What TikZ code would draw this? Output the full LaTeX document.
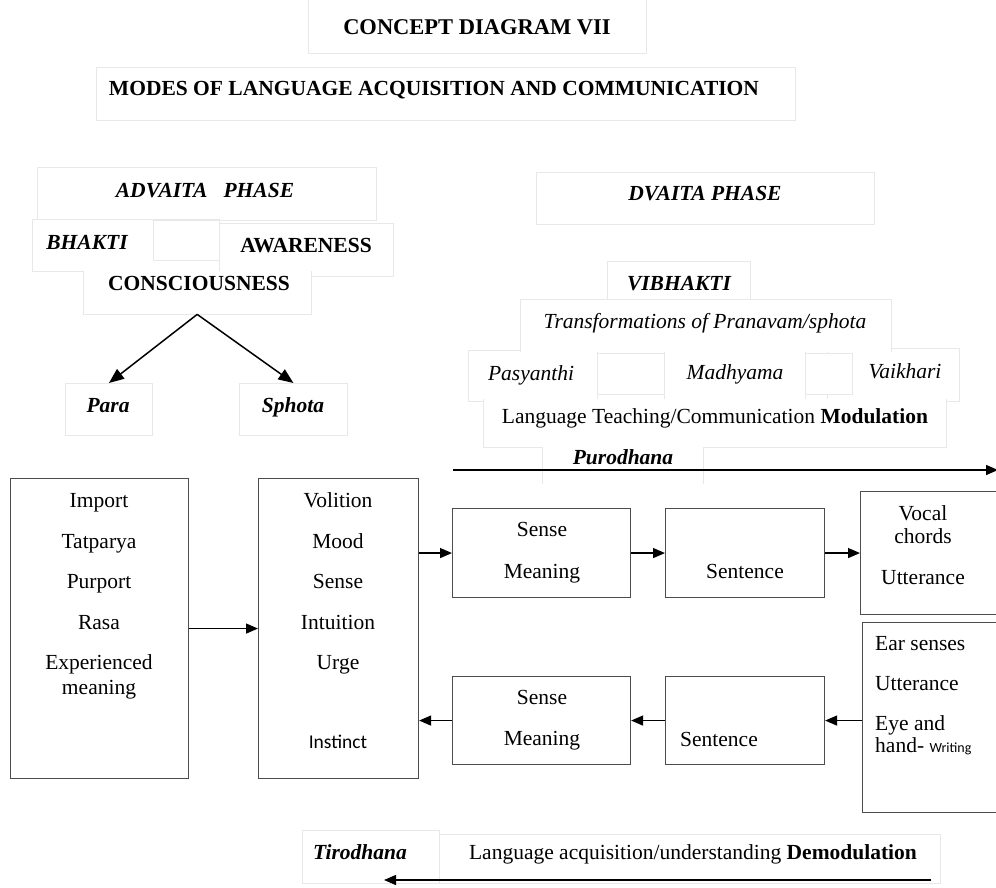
\documentclass[tikz,border=0pt]{standalone}
\usepackage{fontspec}
\setmainfont{Liberation Serif}
\newfontfamily\calibfont{Carlito}
\usetikzlibrary{arrows.meta}

\begin{document}
\begin{tikzpicture}
    [x=1pt, y=-1pt,
    every node/.style={inner sep=0pt, text height=14.6pt, text depth=0pt,
        font=\fontsize{21.5}{24}\selectfont},
    tbold/.style={font=\fontsize{21.5}{24}\selectfont\bfseries},
    tboldit/.style={font=\fontsize{21.5}{24}\selectfont\bfseries\itshape},
    tital/.style={font=\fontsize{21.5}{24}\selectfont\itshape},
    faint/.style={draw=black!9, line width=0.9pt},
    pane/.style 2 args={faint, fill=white, anchor=north west,
        minimum width=#1, minimum height=#2},
    blank/.style 2 args={fill=white, anchor=north west,
        minimum width=#1, minimum height=#2},
    frame/.style 2 args={draw=black!70, line width=1.1pt, anchor=north west,
        minimum width=#1, minimum height=#2},
    arr/.style={-{Triangle[length=12pt,width=10pt]}, line width=1.4pt},
    arrbig/.style={-{Triangle[length=15pt,width=12pt]}, line width=1.5pt}
    ]
    \useasboundingbox (0,0) rectangle (996,888);

    % titles
    \node[pane={338pt}{55pt}] (ptitle) at (308,-2) {};
    \node[tbold, font=\fontsize{22.5}{24}\selectfont\bfseries] (title) at (477,27) {CONCEPT DIAGRAM VII};
    \node[pane={699pt}{53pt}] (psub) at (96,67) {};
    \node[tbold] (subtitle) at (434,88) {MODES OF LANGUAGE ACQUISITION AND COMMUNICATION};

    % advaita phase
    \node[pane={339pt}{53pt}] (padvaita) at (37,167) {};
    \node[pane={187pt}{52pt}] (pbhakti) at (32,219) {};
    \node[pane={66pt}{40pt}] (pgap) at (153,220) {};
    \node[pane={174pt}{53pt}] (paware) at (219,223) {};
    \node[blank={228pt}{43pt}] (conc) at (83,271) {};
    \draw[faint] (conc.north west) |- (conc.south east) -- (conc.north east);
    \node[tboldit] (advaita) at (205,190) {ADVAITA\ \ \ PHASE};
    \node[tboldit] (bhakti) at (87,242) {BHAKTI};
    \node[tbold] (aware) at (306,245) {AWARENESS};
    \node[tbold] (conscious) at (199,283) {CONSCIOUSNESS};
    \node[pane={87pt}{52pt}] (para) at (65,383) {};
    \node[tboldit] (tpara) at (108,405) {Para};
    \node[pane={108pt}{52pt}] (sphota) at (239,383) {};
    \node[tboldit] (tsphota) at (293,405) {Sphota};
    \draw[arrbig] (conc.south) -- (para.north);
    \draw[arrbig] (conc.south) -- (sphota.north);

    % dvaita phase
    \node[pane={338pt}{52pt}] (pdvaita) at (536,172) {};
    \node[tboldit] (dvaita) at (705,193) {DVAITA PHASE};
    \node[pane={143pt}{45pt}] (pvibhakti) at (607,261) {};
    \node[pane={129pt}{51pt}] (ppasy) at (468,350) {};
    \node[pane={141pt}{51pt}] (pmadh) at (664,350) {};
    \node[pane={132pt}{53pt}] (pvaik) at (827,348) {};
    \node[pane={67pt}{41pt}] (pgap1) at (597,353) {};
    \node[pane={47pt}{41pt}] (pgap2) at (805,353) {};
    \node[blank={371pt}{53pt}] (ptrans) at (520,299) {};
    \draw[faint] (ptrans.south west) |- (ptrans.north east) -- (ptrans.south east);
    \node[blank={463pt}{48pt}] (plang) at (483,399) {};
    \draw[faint] (plang.north west) |- (plang.south east) -- (plang.north east);
    \node[blank={161pt}{37pt}] (ppuro) at (542,447) {};
    \draw[faint] (ppuro.north west) -- (ppuro.south west);
    \draw[faint] (ppuro.north east) -- (ppuro.south east);
    \node[tboldit] (vibhakti) at (679,283) {VIBHAKTI};
    \node[tital] (trans) at (705,321) {Transformations of Pranavam/sphota};
    \node[tital] (pasy) at (531,373) {Pasyanthi};
    \node[tital] (madh) at (735,372) {Madhyama};
    \node[tital] (vaik) at (905,371) {Vaikhari};
    \node (modul) at (715,416) {Language Teaching/Communication \textbf{Modulation}};
    \node[tboldit] (puro) at (623,457) {Purodhana};
    \coordinate (pstart) at (453,470);
    \coordinate (pend) at (998,470);
    \draw[arr] (pstart) -- (pend);

    % boxes
    \node[frame={178pt}{300pt}] (imp) at (10,478) {};
    \node (timport) at (99,500) {Import};
    \node (ttatparya) at (99,541) {Tatparya};
    \node (tpurport) at (99,581) {Purport};
    \node (trasa) at (99,622) {Rasa};
    \node (texper) at (99,662) {Experienced};
    \node (tmeaning) at (99,687) {meaning};

    \node[frame={160pt}{300pt}] (vol) at (258,478) {};
    \node (tvolition) at (338,500) {Volition};
    \node (tmood) at (338,541) {Mood};
    \node (tsense) at (338,581) {Sense};
    \node (tintuit) at (338,622) {Intuition};
    \node (turge) at (338,662) {Urge};
    \node[font=\calibfont\fontsize{19.5}{22}\selectfont] (tinstinct) at (338,741) {Instinct};

    \node[frame={178pt}{89pt}] (sense1) at (452,508) {};
    \node (tsense1) at (542,529) {Sense};
    \node (tmean1) at (542,571) {Meaning};
    \node[frame={159pt}{89pt}] (sent1) at (665,508) {};
    \node (tsent1) at (745,571) {Sentence};
    \node[frame={140pt}{123pt}] (vocal) at (860,491) {};
    \node (tvocal) at (923,513) {Vocal};
    \node (tchords) at (923,536) {chords};
    \node (tutter1) at (923,577) {Utterance};

    \node[frame={178pt}{88pt}] (sense2) at (452,676) {};
    \node (tsense2) at (542,697) {Sense};
    \node (tmean2) at (542,738) {Meaning};
    \node[frame={159pt}{88pt}] (sent2) at (665,676) {};
    \node (tsent2) at (719,739) {Sentence};
    \node[frame={140pt}{190pt}] (ear) at (862,622) {};
    \node[anchor=west] (tear) at (875,643) {Ear senses};
    \node[anchor=west] (tutter2) at (875,683) {Utterance};
    \node[anchor=west] (teye) at (875,723) {Eye and};
    \node[anchor=west] (thand) at (875,745) {hand- {\calibfont\fontsize{14}{16}\selectfont Writing}};

    \draw[arr] (imp.east) -- (vol.west);
    \draw[arr] (vol.east |- sense1.west) -- (sense1.west);
    \draw[arr] (sense1.east) -- (sent1.west);
    \draw[arr] (sent1.east) -- (vocal.west |- sent1.east);
    \draw[arr] (ear.west |- sent2.east) -- (sent2.east);
    \draw[arr] (sent2.west) -- (sense2.east);
    \draw[arr] (sense2.west) -- (vol.east |- sense2.west);

    % tirodhana
    \node[pane={137pt}{53pt}] (ptiro) at (302,830) {};
    \node[pane={501pt}{49pt}] (pacq) at (439,834) {};
    \node[tboldit] (tiro) at (360,852) {Tirodhana};
    \node (demod) at (693,852) {Language acquisition/understanding \textbf{Demodulation}};
    \coordinate (tstart) at (931,880);
    \coordinate (tend) at (384,880);
    \draw[arr] (tstart) -- (tend);
\end{tikzpicture}
\end{document}
